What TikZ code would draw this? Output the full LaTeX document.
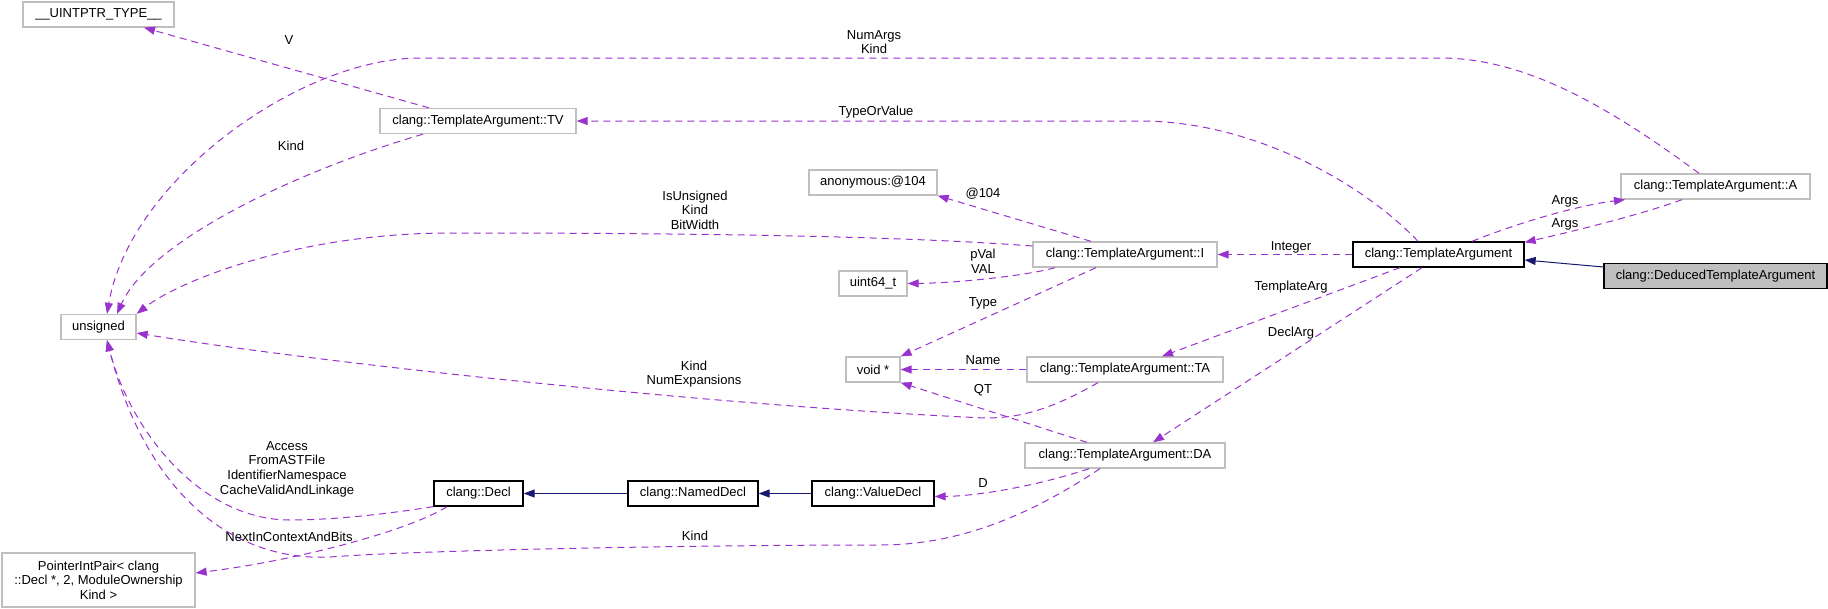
\documentclass[tikz,border=0pt]{standalone}
\usepackage{fontspec}
\setmainfont{Liberation Sans}
\usetikzlibrary{arrows.meta}

\definecolor{orchid}{HTML}{9A32CD}
\definecolor{navy}{HTML}{191970}
\definecolor{grey75}{HTML}{BFBFBF}

\tikzset{
  cls/.style={draw=black, line width=1.3pt, minimum height=25pt, inner sep=0pt,
    align=center, font=\fontsize{13}{14.6}\selectfont},
  ext/.style={cls, draw=grey75},
  uses/.style={draw=orchid, line width=1pt, dash pattern=on 7pt off 5pt,
    -{Triangle[length=11pt,width=8pt]}},
  isa/.style={draw=navy, line width=1pt, -{Triangle[length=11pt,width=8pt]}},
  lbl/.style={font=\fontsize{13}{14.6}\selectfont, align=center, inner sep=0pt}
}

\begin{document}
\begin{tikzpicture}[x=1pt,y=-1pt]

\useasboundingbox (0,0) rectangle (1828,608);
\fill[white] (0,0) rectangle (1828,608);

% Classes
\node[ext, minimum width=151pt] (uintptr) at (98.5,14.5) {\_\_UINTPTR\_TYPE\_\_};
\node[ext, minimum width=196pt] (tv) at (478,121) {clang::TemplateArgument::TV};
\node[ext, minimum width=75pt] (uns) at (98.5,327) {unsigned};
\node[ext, minimum width=193pt, minimum height=54pt] (pip) at (98.5,580)
  {PointerIntPair< clang\\::Decl *, 2, ModuleOwnership\\Kind >};

\node[ext, minimum width=128pt] (anon) at (873,182.5) {anonymous:@104};
\node[ext, minimum width=68pt] (u64) at (873,283.5) {uint64\_t};
\node[ext, minimum width=54pt] (voidp) at (873,369.5) {void *};

\node[cls, minimum width=89pt] (decl) at (478.5,493.5) {clang::Decl};
\node[cls, minimum width=130pt] (ndecl) at (693,493.5) {clang::NamedDecl};
\node[cls, minimum width=122pt] (vdecl) at (873,493.5) {clang::ValueDecl};

\node[ext, minimum width=184pt] (tai) at (1125,254.5) {clang::TemplateArgument::I};
\node[ext, minimum width=196pt] (tata) at (1125,369.5) {clang::TemplateArgument::TA};
\node[ext, minimum width=200pt] (tada) at (1125,455.5) {clang::TemplateArgument::DA};

\node[cls, minimum width=171pt] (targ) at (1438.5,254.5) {clang::TemplateArgument};
\node[ext, minimum width=189pt] (taa) at (1715.5,186.5) {clang::TemplateArgument::A};
\node[cls, minimum width=223pt, fill=grey75] (dta) at (1715.5,276) {clang::DeducedTemplateArgument};

% Inheritance
\draw[isa] ([yshift=9pt]dta.west) -- ([yshift=-5.5pt]targ.east);
\draw[isa] (ndecl.west) -- (decl.east);
\draw[isa] (vdecl.west) -- (ndecl.east);

% Members of TemplateArgument
\draw[uses] ([xshift=-20.5pt]targ.north) .. controls (1370,190) and (1260,121) .. (1140,121) -- (tv.east);
\draw[uses] ([xshift=33.5pt]targ.north) .. controls (1520,222) and (1580,205) .. ([xshift=-90.5pt]taa.south);
\draw[uses] (targ.west) -- (tai.east);
\draw[uses] ([xshift=-38.5pt]targ.south) -- ([xshift=37pt]tata.north);
\draw[uses] ([xshift=-16.5pt]targ.south) -- ([xshift=28pt]tada.north);

\node[lbl] (lTypeOrValue) at (876,112) {TypeOrValue};
\node[lbl] (lArgsA) at (1565,201) {Args};
\node[lbl] (lInteger) at (1291,247) {Integer};
\node[lbl] (lTemplateArg) at (1291,287) {TemplateArg};
\node[lbl] (lDeclArg) at (1291,333) {DeclArg};

% Members of A
\draw[uses] ([xshift=-33.5pt]taa.south) .. controls (1640,215) and (1570,232) .. ([yshift=-1pt]targ.north east);
\draw[uses] ([xshift=-16.5pt]taa.north) .. controls (1600,100) and (1520,58) .. (1440,58) -- (420,58)
  .. controls (300,58) and (130,180) .. ([xshift=8.5pt]uns.north);

\node[lbl] (lArgsB) at (1565,224) {Args};
\node[lbl] (lNumArgs) at (874,42) {NumArgs\\Kind};

% Members of TV
\draw[uses] ([xshift=-49pt]tv.north) -- ([xshift=45.5pt]uintptr.south);
\draw[uses] ([xshift=-55pt]tv.south) .. controls (300,170) and (150,240) .. ([xshift=18.5pt]uns.north);

\node[lbl] (lV) at (289,40) {V};
\node[lbl] (lKindTV) at (291,146) {Kind};

% Members of I
\draw[uses] ([xshift=-34pt]tai.north) -- (anon.south east);
\draw[uses] ([yshift=8.5pt]tai.west) .. controls (900,236) and (700,233) .. (450,233)
  .. controls (300,233) and (180,280) .. (uns.north east);
\draw[uses] ([xshift=-70pt]tai.south) .. controls (1030,275) and (960,283) .. (u64.east);
\draw[uses] ([xshift=-29pt]tai.south) -- (voidp.north east);

\node[lbl] (l104) at (983,194) {@104};
\node[lbl] (lIsUnsigned) at (695,210) {IsUnsigned\\Kind\\BitWidth};
\node[lbl] (lpVal) at (983,261) {pVal\\VAL};
\node[lbl] (lType) at (983,303) {Type};

% Members of TA
\draw[uses] (tata.west) -- (voidp.east);
\draw[uses] ([xshift=-27pt]tata.south) .. controls (1050,410) and (1020,418) .. (985,418)
  .. controls (700,405) and (300,360) .. ([yshift=-6pt]uns.east);

\node[lbl] (lName) at (983,360) {Name};
\node[lbl] (lNumExp) at (694,374) {Kind\\NumExpansions};

% Members of DA
\draw[uses] ([xshift=-38pt]tada.north) -- (voidp.south east);
\draw[uses] ([xshift=-36pt]tada.south) .. controls (1040,485) and (980,496) .. ([yshift=-3pt]vdecl.east);
\draw[uses] ([xshift=-25pt]tada.south) .. controls (1030,515) and (960,545) .. (880,545)
  .. controls (700,545) and (420,550) .. (330,557) .. controls (230,562) and (145,490) .. ([xshift=8.5pt]uns.south);

\node[lbl] (lQT) at (983,390) {QT};
\node[lbl] (lD) at (983,483) {D};
\node[lbl] (lKindDA) at (695,536) {Kind};

% Members of Decl
\draw[uses] (decl.south west) .. controls (380,515) and (330,520) .. (290,520)
  .. controls (200,520) and (130,430) .. ([xshift=8.5pt]uns.south);
\draw[uses] ([xshift=-31.5pt]decl.south) .. controls (410,530) and (300,560) .. ([yshift=7pt]pip.east);

\node[lbl] (lAccess) at (287,469) {Access\\FromASTFile\\IdentifierNamespace\\CacheValidAndLinkage};
\node[lbl] (lNext) at (289,537) {NextInContextAndBits};

\end{tikzpicture}
\end{document}
